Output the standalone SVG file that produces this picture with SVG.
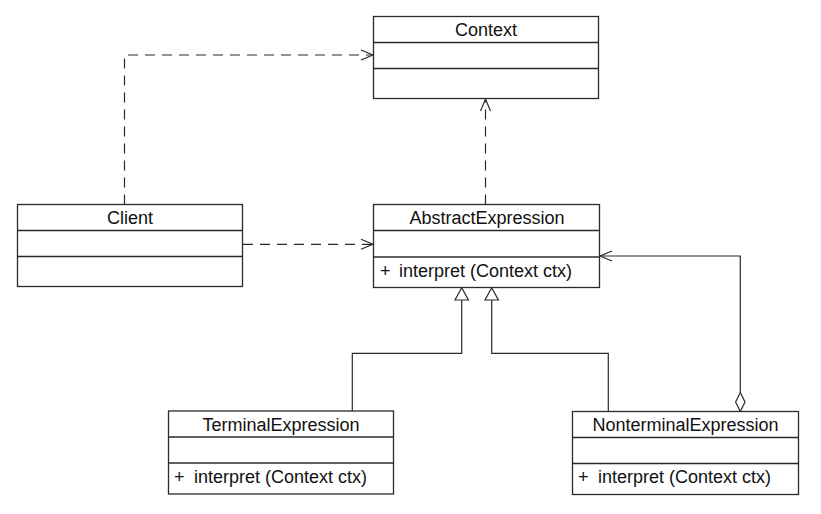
<svg xmlns="http://www.w3.org/2000/svg" width="821" height="514" viewBox="0 0 821 514">
<style>
.box{fill:#fff;stroke:#2a2a2a;stroke-width:1.3}
.div{stroke:#2a2a2a;stroke-width:1.3}
.t{font-family:"Liberation Sans",Arial,sans-serif;font-size:18px;fill:#111}
.c{text-anchor:middle}
.ln{fill:none;stroke:#2a2a2a;stroke-width:1.2}
.dash{stroke-dasharray:10 7}
</style>
<defs>
<marker id="open" markerUnits="userSpaceOnUse" markerWidth="16" markerHeight="14" refX="13" refY="6" orient="auto">
<path d="M1,1 L13,6 L1,11" fill="none" stroke="#2a2a2a" stroke-width="1.2" stroke-dasharray="none"/>
</marker>
</defs>
<rect width="821" height="514" fill="#fff"/>
<g id="connectors">
<path class="ln dash" d="M124.5,204.5 V55 H373" marker-end="url(#open)"/>
<path class="ln dash" d="M243,244.3 H373" marker-end="url(#open)"/>
<path class="ln dash" d="M485.5,204.5 V99" marker-end="url(#open)"/>
<path class="ln" d="M352.3,411 V353.3 H461.7 V300"/>
<polygon class="ln" points="461.7,287.8 455,300 468.4,300"/>
<path class="ln" d="M608.3,411.5 V353.3 H491.7 V300"/>
<polygon class="ln" points="491.7,287.8 485,300 498.4,300"/>
<path class="ln" d="M740.3,392.5 V256 H600" marker-end="url(#open)"/>
<polygon class="ln" points="740.3,392.5 745,402 740.3,411.5 735.6,402" style="fill:#fff"/>
</g>
<g id="context">
<rect class="box" x="373.5" y="16.5" width="225" height="82"/>
<line class="div" x1="373.5" y1="42.5" x2="598.5" y2="42.5"/>
<line class="div" x1="373.5" y1="68.5" x2="598.5" y2="68.5"/>
<text class="t c" x="486" y="36">Context</text>
</g>
<g id="client">
<rect class="box" x="17.5" y="204.5" width="225" height="82"/>
<line class="div" x1="17.5" y1="230.5" x2="242.5" y2="230.5"/>
<line class="div" x1="17.5" y1="256.5" x2="242.5" y2="256.5"/>
<text class="t c" x="130" y="224">Client</text>
</g>
<g id="abstract">
<rect class="box" x="373.5" y="204.5" width="226" height="83"/>
<line class="div" x1="373.5" y1="230.5" x2="599.5" y2="230.5"/>
<line class="div" x1="373.5" y1="257" x2="599.5" y2="257"/>
<text class="t c" x="487" y="224">AbstractExpression</text>
<text class="t" y="277"><tspan x="380">+</tspan><tspan x="399">interpret (Context ctx)</tspan></text>
</g>
<g id="terminal">
<rect class="box" x="168.5" y="411" width="225" height="83"/>
<line class="div" x1="168.5" y1="437" x2="393.5" y2="437"/>
<line class="div" x1="168.5" y1="463" x2="393.5" y2="463"/>
<text class="t c" x="281" y="430.5">TerminalExpression</text>
<text class="t" y="482.5"><tspan x="174">+</tspan><tspan x="194">interpret (Context ctx)</tspan></text>
</g>
<g id="nonterminal">
<rect class="box" x="572.5" y="411.5" width="226" height="83"/>
<line class="div" x1="572.5" y1="437.5" x2="798.5" y2="437.5"/>
<line class="div" x1="572.5" y1="463.5" x2="798.5" y2="463.5"/>
<text class="t c" x="685.5" y="431">NonterminalExpression</text>
<text class="t" y="483"><tspan x="578">+</tspan><tspan x="598">interpret (Context ctx)</tspan></text>
</g>
</svg>
